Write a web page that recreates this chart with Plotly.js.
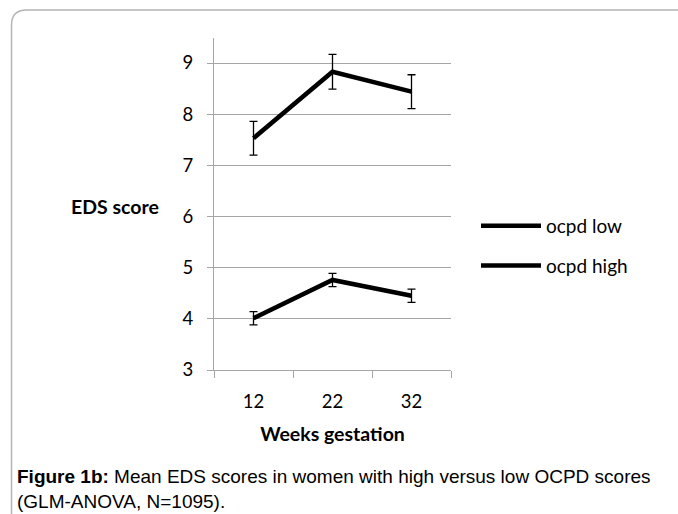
<!DOCTYPE html>
<html>
<head>
<meta charset="utf-8">
<script src="https://cdn.plot.ly/plotly-3.0.1.min.js"></script>
<style>html,body{margin:0;padding:0;background:#fff;}#chart{width:678px;height:514px;}</style>
</head>
<body>
<div id="chart"></div>
<script>
// ---- data ----
const weeks = ['12', '22', '32'];
const seriesNames = ['ocpd low', 'ocpd high'];
const lowMeans = [7.53, 8.83, 8.44];
const lowErr = [0.33, 0.34, 0.33];
const highMeans = [4.01, 4.76, 4.45];
const highErr = [0.13, 0.13, 0.13];
const yTicks = [3, 4, 5, 6, 7, 8, 9];
const xTitle = 'Weeks gestation';
const yTitle = 'EDS score';
const captionBold = 'Figure 1b:';
const captionLine1 = ' Mean EDS scores in women with high versus low OCPD scores';
const captionLine2 = '(GLM-ANOVA, N=1095).';

// ---- geometry ----
const W = 678, H = 514;
const L = 214, R = 451, T = 38, B = 370;
const px = x => (x - L) / (R - L);
const py = y => (B - y) / (B - T);
const grey = '#a6a6a6';
const chartFont = 'Lato, "Open Sans", sans-serif';

const traces = [
  {x: weeks, y: lowMeans, name: seriesNames[0], type: 'scatter', mode: 'lines',
   line: {color: '#000', width: 4.5}, legendgroup: 'a',
   error_y: {type: 'data', array: lowErr, visible: true, color: '#000', thickness: 1.3, width: 4}},
  {x: weeks, y: highMeans, name: seriesNames[1], type: 'scatter', mode: 'lines',
   line: {color: '#000', width: 4.5}, legendgroup: 'b',
   error_y: {type: 'data', array: highErr, visible: true, color: '#000', thickness: 1.3, width: 4}}
];

const layout = {
  width: W, height: H,
  margin: {l: L, r: W - R, t: T, b: H - B, pad: 0},
  paper_bgcolor: '#fff', plot_bgcolor: '#fff',
  font: {family: chartFont, color: '#000', size: 18.5},
  showlegend: true,
  legend: {
    xref: 'container', yref: 'container',
    x: 476 / W, y: 1 - 207 / H, xanchor: 'left', yanchor: 'top',
    itemwidth: 60,
    font: {family: chartFont, size: 19, color: '#000'},
    bgcolor: 'rgba(0,0,0,0)', traceorder: 'grouped', tracegroupgap: 12
  },
  xaxis: {
    type: 'category', range: [-0.5, 2.5], tickson: 'boundaries',
    ticks: 'outside', ticklen: 7, tickcolor: grey, tickwidth: 1,
    showline: true, linecolor: grey, linewidth: 1, showgrid: false, zeroline: false,
    tickfont: {family: chartFont, size: 18.5, color: '#000'},
    ticklabelstandoff: 15,
    title: {text: xTitle, font: {family: chartFont, size: 19.5, weight: 'bold', color: '#000'}, standoff: 16}
  },
  yaxis: {
    range: [3, 3 + (B - T) / ((B - 63) / 6)],
    tickmode: 'array', tickvals: yTicks, ticktext: yTicks.map(String),
    ticks: 'outside', ticklen: 6, tickcolor: grey, tickwidth: 1,
    showline: true, linecolor: grey, linewidth: 1,
    showgrid: true, gridcolor: grey, gridwidth: 1, zeroline: false,
    tickfont: {family: chartFont, size: 18.5, color: '#000'},
    ticklabelstandoff: 10
  },
  annotations: [
    {xref: 'paper', yref: 'paper', x: px(115), y: py(206), xanchor: 'center', yanchor: 'middle',
     text: yTitle, showarrow: false, font: {family: chartFont, size: 19.5, weight: 'bold', color: '#000'}},
    {xref: 'paper', yref: 'paper', x: px(15), y: py(489), xanchor: 'left', yanchor: 'middle', align: 'left',
     text: '<b>' + captionBold + '</b>' + captionLine1 + '<br>' + captionLine2, showarrow: false,
     font: {family: 'Arial, "Liberation Sans", sans-serif', size: 19, color: '#000'}}
  ],
  shapes: [
    {type: 'path', xref: 'paper', yref: 'paper', layer: 'below',
     path: 'M' + px(11.5) + ',' + py(520) + ' L' + px(11.5) + ',' + py(25) +
           ' Q' + px(11.5) + ',' + py(10) + ' ' + px(26.5) + ',' + py(10) +
           ' L' + px(690) + ',' + py(10),
     line: {color: '#b4b4b4', width: 1.5}}
  ]
};

Plotly.newPlot('chart', traces, layout, {displayModeBar: false, staticPlot: true});
</script>
</body>
</html>
